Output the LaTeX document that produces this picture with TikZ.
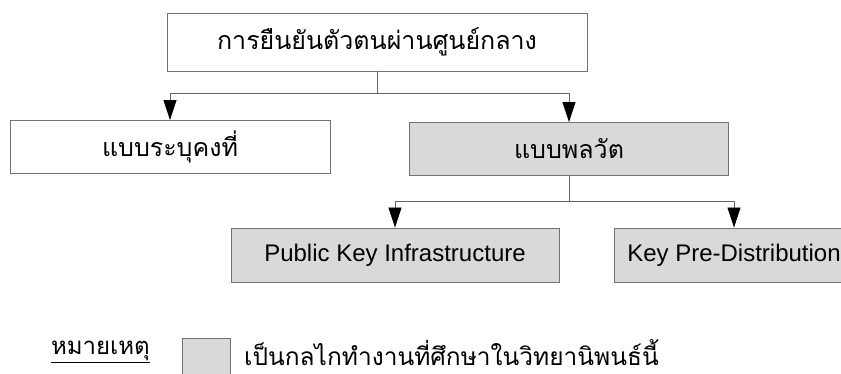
\documentclass[tikz,border=0pt]{standalone}
\usepackage{fontspec}
\setmainfont{Liberation Sans}
\newfontfamily\thaifont[Script=Thai]{Loma}
\usetikzlibrary{arrows.meta}

\tikzset{
  box/.style={draw=gray!90!black, line width=0.9pt, fill=white, minimum height=53pt,
    inner sep=0pt, font=\fontsize{24}{29}\selectfont},
  studied/.style={box, fill=gray!30},
  link/.style={draw=gray!80!black, line width=0.8pt},
  tip/.style={-{Triangle[length=20pt,width=13pt,black]}}
}

\begin{document}
\begin{tikzpicture}[x=1pt,y=-1pt]
    \useasboundingbox (0,0) rectangle (841,374);

    % Boxes
    \node[box, minimum width=420pt, minimum height=58pt, font=\fontsize{25}{30}\selectfont] (top) at (377,42) {\thaifont การยืนยันตัวตนผ่านศูนย์กลาง};
    \node[box, minimum width=320pt, font=\fontsize{25}{30}\selectfont] (fixed) at (170,147) {\thaifont แบบระบุคงที่};
    \node[studied, minimum width=319pt, font=\fontsize{25}{30}\selectfont] (dyn) at (569,149) {\thaifont แบบพลวัต};
    \node[studied, minimum width=328pt, minimum height=54pt] (pki) at (395,255) {Public Key Infrastructure};
    \node[studied, minimum width=240pt, minimum height=54pt] (kpd) at (734,255) {Key Pre-Distribution};

    % Connectors
    \draw[link] (top.south) -- ++(0,22) coordinate (split1);
    \draw[link, tip] (split1) -| (fixed.north);
    \draw[link, tip] (split1) -| (dyn.north);
    \draw[link] (dyn.south) -- ++(0,25) coordinate (split2);
    \draw[link, tip] (split2) -| (pki.north);
    \draw[link, tip] (split2) -| (kpd.north);

    % Legend
    \node[anchor=east, inner sep=0pt, font=\fontsize{24}{29}\selectfont] (note) at (150,352) {\thaifont\underline{หมายเหตุ}};
    \node[studied, minimum width=48pt, minimum height=46pt] (legendbox) at (206,361) {};
    \node[anchor=west, inner sep=0pt, font=\fontsize{24.5}{29}\selectfont] (legendtext) at (244,353) {\thaifont เป็นกลไกทำงานที่ศึกษาในวิทยานิพนธ์นี้};
\end{tikzpicture}
\end{document}
